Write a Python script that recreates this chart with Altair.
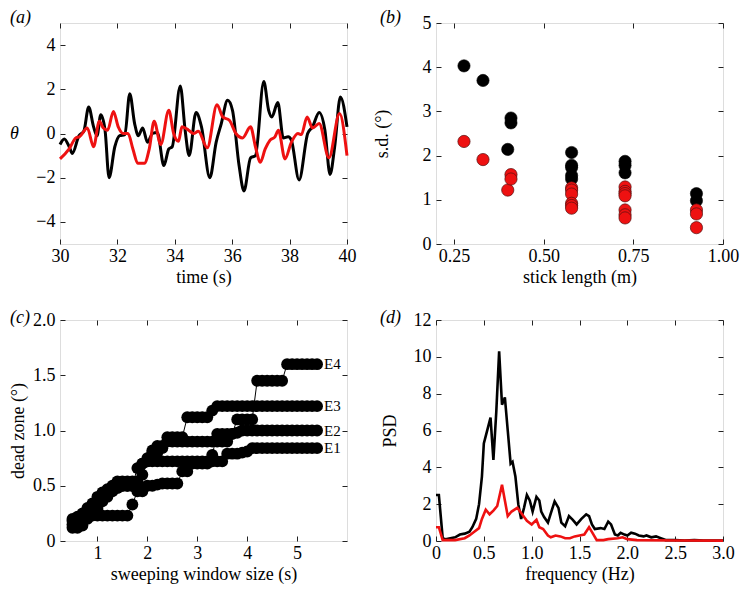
import altair as alt
import pandas as pd

FONT = "Liberation Serif"
FS = 18
W, H = 287, 221
RED = "#ee1111"

# ---------------- (a) time series ----------------
a_black_t = [30.00, 30.15, 30.32, 30.43, 30.66, 30.83, 31.00, 31.17, 31.29, 31.42,
             31.57, 31.71, 31.91, 32.08, 32.26, 32.43, 32.60, 32.73, 32.88, 33.05,
             33.22, 33.39, 33.62, 33.79, 33.91, 34.19, 34.36, 34.50, 34.74, 34.93,
             35.22, 35.44, 35.62, 35.84, 36.01, 36.24, 36.41, 36.64, 36.81, 37.10,
             37.27, 37.38, 37.59, 37.78, 37.95, 38.06, 38.33, 38.63, 38.80, 39.03,
             39.23, 39.41, 39.57, 39.77, 40.00]
a_black_v = [-0.5, -0.25, -0.6, -0.9, -0.1, 0.1, 1.2, 0.3, -0.1, 0.85,
             0.15, -2.0, -0.6, -0.1, -0.05, 1.8, 0.45, -0.1, 0.25, -0.4,
             0.0, 0.05, -1.45, -0.7, -0.6, 2.15, 0.15, -1.0, 0.95, 0.3,
             -2.0, -0.4, 0.45, 1.5, 1.05, -1.45, -2.6, -1.1, -1.0, 2.35,
             1.05, 0.75, 1.4, -0.2, -0.15, -0.3, -2.1, 0.0, 0.3, 0.95,
             0.15, -1.85, -0.6, 1.65, 0.3]
a_red_t = [30.00, 30.32, 30.55, 30.68, 30.95, 31.17, 31.37, 31.51, 31.66, 31.86,
           32.03, 32.20, 32.37, 32.54, 32.71, 32.94, 33.11, 33.28, 33.51, 33.79,
           33.96, 34.13, 34.25, 34.48, 34.65, 34.82, 35.13, 35.47, 35.67, 35.90,
           36.13, 36.36, 36.64, 36.81, 36.98, 37.15, 37.32, 37.49, 37.61, 37.84,
           38.06, 38.29, 38.41, 38.61, 38.80, 39.03, 39.37, 39.74, 40.00]
a_red_v = [-1.15, -0.7, -0.2, -0.15, 0.25, -0.6, 0.55, 0.25, 0.15, 1.0,
           0.3, 0.0, 0.0, -0.7, -1.35, -1.35, -0.7, 0.55, -0.5, 1.05,
           0.0, -0.35, 0.3, 0.15, 0.0, 0.1, -0.65, 1.3, 0.75, 0.6,
           0.0, -0.2, 0.3, -0.6, -1.3, -0.7, -0.3, -0.15, 0.15, -1.15,
           -0.4, 0.0, -0.05, 0.75, 0.25, 0.45, -1.1, 0.9, -1.0]

# ---------------- (b) s.d. vs stick length ----------------
b_black_x = [0.278, 0.331, 0.400, 0.409, 0.409, 0.578, 0.578, 0.578, 0.578, 0.578,
             0.727, 0.727, 0.727, 0.926, 0.926]
b_black_y = [4.03, 3.70, 2.14, 2.85, 2.74, 2.07, 1.78, 1.73, 1.55, 1.47,
             1.87, 1.78, 1.61, 1.14, 0.98]
b_red_x = [0.278, 0.331, 0.400, 0.409, 0.409,
           0.578, 0.578, 0.578, 0.578, 0.578, 0.578,
           0.727, 0.727, 0.727, 0.727, 0.727, 0.727, 0.727,
           0.926, 0.926, 0.926]
b_red_y = [2.32, 1.91, 1.22, 1.57, 1.47,
           1.27, 1.22, 1.13, 0.92, 0.87, 0.81,
           1.29, 1.19, 1.14, 1.09, 0.77, 0.66, 0.59,
           0.77, 0.68, 0.37]

# ---------------- (c) dead zone vs sweeping window ----------------
window = [0.5, 0.6, 0.7, 0.8, 0.9, 1.0, 1.1, 1.2, 1.3, 1.4,
          1.5, 1.6, 1.7, 1.8, 1.9, 2.0, 2.1, 2.2, 2.3, 2.4,
          2.5, 2.6, 2.7, 2.8, 2.9, 3.0, 3.1, 3.2, 3.3, 3.4,
          3.5, 3.6, 3.7, 3.8, 3.9, 4.0, 4.1, 4.2, 4.3, 4.4,
          4.5, 4.6, 4.7, 4.8, 4.9, 5.0, 5.1, 5.2, 5.3, 5.4]
E1 = [0.12, 0.12, 0.14, 0.20, 0.23, 0.23, 0.23, 0.23, 0.23, 0.23,
      0.23, 0.23, 0.33, 0.45, 0.45, 0.50, 0.50, 0.51, 0.52, 0.52,
      0.52, 0.52, 0.63, 0.63, 0.70, 0.70, 0.70, 0.70, 0.72, 0.72,
      0.72, 0.79, 0.79, 0.79, 0.80, 0.81, 0.84, 0.84, 0.84, 0.84,
      0.84, 0.84, 0.84, 0.84, 0.84, 0.84, 0.84, 0.84, 0.84, 0.84]
E2 = [0.15, 0.17, 0.20, 0.24, 0.28, 0.30, 0.36, 0.40, 0.45, 0.48,
      0.50, 0.50, 0.50, 0.52, 0.60, 0.72, 0.72, 0.72, 0.72, 0.72,
      0.72, 0.72, 0.72, 0.72, 0.72, 0.72, 0.72, 0.72, 0.78, 0.97,
      0.97, 0.97, 0.97, 0.98, 1.00, 1.00, 1.00, 1.00, 1.00, 1.00,
      1.00, 1.00, 1.00, 1.00, 1.00, 1.00, 1.00, 1.00, 1.00, 1.00]
E3 = [0.20, 0.22, 0.25, 0.30, 0.34, 0.40, 0.44, 0.47, 0.50, 0.54,
      0.54, 0.54, 0.54, 0.54, 0.70, 0.75, 0.82, 0.86, 0.86, 0.94,
      0.94, 0.94, 0.94, 1.12, 1.12, 1.12, 1.12, 1.12, 1.18, 1.22,
      1.22, 1.22, 1.22, 1.22, 1.22, 1.22, 1.22, 1.22, 1.22, 1.22,
      1.22, 1.22, 1.22, 1.22, 1.22, 1.22, 1.22, 1.22, 1.22, 1.22]
E4 = [0.18, 0.20, 0.22, 0.26, 0.28, 0.28, 0.42, 0.45, 0.48, 0.50,
      0.50, 0.50, 0.50, 0.66, 0.70, 0.72, 0.80, 0.80, 0.84, 0.90,
      0.90, 0.90, 0.90, 0.90, 0.90, 0.90, 0.90, 0.90, 0.90, 0.90,
      0.90, 0.90, 0.97, 1.10, 1.10, 1.10, 1.10, 1.45, 1.45, 1.45,
      1.45, 1.45, 1.45, 1.60, 1.60, 1.60, 1.60, 1.60, 1.60, 1.60]
series_names = ["E1", "E2", "E3", "E4"]

# ---------------- (d) PSD ----------------
d_black_f = [0.00, 0.03, 0.07, 0.10, 0.15, 0.20, 0.25, 0.30, 0.35, 0.38,
             0.42, 0.45, 0.48, 0.50, 0.53, 0.57, 0.60, 0.63, 0.66, 0.69,
             0.72, 0.75, 0.78, 0.80, 0.83, 0.86, 0.89, 0.92, 0.95, 0.98,
             1.01, 1.05, 1.08, 1.10, 1.13, 1.17, 1.20, 1.24, 1.28, 1.31,
             1.35, 1.39, 1.43, 1.47, 1.52, 1.57, 1.60, 1.63, 1.66, 1.72,
             1.76, 1.80, 1.83, 1.87, 1.90, 1.93, 1.97, 2.00, 2.04, 2.08,
             2.12, 2.17, 2.20, 2.25, 2.30, 2.35, 2.40, 2.50, 2.60, 2.70,
             2.80, 3.00]
d_black_p = [2.5, 2.5, 0.15, 0.1, 0.15, 0.2, 0.35, 0.4, 0.5, 0.75,
             1.2, 2.0, 3.5, 5.3, 5.9, 6.7, 4.4, 7.0, 10.3, 7.4,
             7.8, 6.0, 4.2, 4.3, 3.5, 2.0, 1.2, 1.8, 2.5, 2.2,
             1.6, 2.4, 2.2, 1.6, 1.3, 1.0, 1.5, 2.15, 1.8, 1.0,
             0.8, 1.35, 1.15, 0.9, 1.2, 1.45, 1.35, 0.9, 0.65, 0.7,
             0.65, 1.05, 0.9, 0.35, 0.3, 0.45, 0.35, 0.3, 0.45, 0.4,
             0.3, 0.25, 0.3, 0.2, 0.25, 0.15, 0.05, 0.05, 0.03, 0.05,
             0.03, 0.02]
d_red_f = [0.00, 0.03, 0.07, 0.10, 0.20, 0.30, 0.35, 0.40, 0.45, 0.48,
           0.52, 0.56, 0.60, 0.64, 0.69, 0.72, 0.75, 0.79, 0.85, 0.90,
           0.95, 1.00, 1.05, 1.08, 1.12, 1.17, 1.20, 1.25, 1.30, 1.35,
           1.40, 1.45, 1.50, 1.55, 1.60, 1.64, 1.68, 1.75, 1.80, 1.90,
           1.95, 2.00, 2.10, 2.50, 3.00]
d_red_p = [0.75, 0.75, 0.05, 0.05, 0.05, 0.15, 0.3, 0.5, 0.7, 1.2,
           1.7, 1.45, 1.65, 1.9, 3.05, 2.2, 1.35, 1.6, 1.8, 1.45,
           1.1, 0.9, 1.15, 0.75, 0.65, 0.3, 0.2, 0.3, 0.25, 0.15,
           0.15, 0.25, 0.3, 0.35, 0.75, 0.4, 0.05, 0.05, 0.1, 0.15,
           0.2, 0.1, 0.05, 0.03, 0.02]

ZERO_EXPR = "datum.value == 0 ? '0' : format(datum.value, '.1f')"


def ax_bottom(values, title, label_expr=None, title_y=38):
    kw = dict(values=values, title=title, orient="bottom", offset=-5, tickSize=5,
              domain=False, grid=False, labelFont=FONT, labelFontSize=FS,
              labelColor="black", labelPadding=3, labelFlush=False, labelOverlap=False,
              tickColor="#222", titleFont=FONT, titleFontSize=FS, titleFontWeight="normal",
              titleColor="black", titleX=W / 2, titleY=title_y, titleAlign="center",
              titleBaseline="middle")
    if label_expr:
        kw["labelExpr"] = label_expr
    return alt.Axis(**kw)


def ax_left(values, title, title_x, label_expr=None, angle=-90, italic=False):
    kw = dict(values=values, title=title, orient="left", offset=-5, tickSize=5,
              domain=False, grid=False, labelFont=FONT, labelFontSize=FS,
              labelColor="black", labelPadding=5, labelFlush=False, labelOverlap=False,
              tickColor="#222", titleFont=FONT, titleFontSize=FS, titleFontWeight="normal",
              titleColor="black", titleX=title_x - 5, titleY=H / 2, titleAlign="center",
              titleBaseline="middle", titleAngle=angle)
    if italic:
        kw["titleFontStyle"] = "italic"
    if label_expr:
        kw["labelExpr"] = label_expr
    return alt.Axis(**kw)


def ax_ticks(values, orient):
    return alt.Axis(values=values, orient=orient, offset=-5, tickSize=5, domain=False,
                    grid=False, labels=False, title="", tickColor="#222")


def tag(label, x, y):
    return alt.Chart(pd.DataFrame({"s": [label]})).mark_text(
        font=FONT, fontSize=FS, fontStyle="italic", align="left", baseline="alphabetic",
        color="black").encode(text="s:N", x=alt.value(x), y=alt.value(y))


# ----- panel a -----
xa = alt.Scale(domain=[30, 40], nice=False, zero=False)
ya = alt.Scale(domain=[-5, 5], nice=False)
xa_vals = [30, 32, 34, 36, 38, 40]
ya_vals = [-4, -2, 0, 2, 4]
dfa_b = pd.DataFrame({"t": a_black_t, "v": a_black_v})
dfa_r = pd.DataFrame({"t": a_red_t, "v": a_red_v})
a_black = alt.Chart(dfa_b).mark_line(color="black", strokeWidth=3, interpolate="monotone").encode(
    x=alt.X("t:Q", scale=xa, axis=ax_bottom(xa_vals, "time (s)")),
    y=alt.Y("v:Q", scale=ya, axis=ax_left(ya_vals, "θ", -46, angle=0, italic=True)))
a_red = alt.Chart(dfa_r).mark_line(color=RED, strokeWidth=3, interpolate="monotone").encode(
    x=alt.X("t:Q", scale=xa, axis=None), y=alt.Y("v:Q", scale=ya, axis=None))
a_ticks = alt.Chart(dfa_b).mark_point(opacity=0).encode(
    x=alt.X("t:Q", scale=xa, axis=ax_ticks(xa_vals, "top")),
    y=alt.Y("v:Q", scale=ya, axis=ax_ticks(ya_vals, "right")))
A = alt.layer(a_black, a_red, a_ticks, tag("(a)", -50, 0)).resolve_axis(
    x="independent", y="independent").properties(width=W, height=H)

# ----- panel b -----
xb = alt.Scale(domain=[0.2, 1.0], nice=False, zero=False)
yb = alt.Scale(domain=[0, 5], nice=False)
xb_vals = [0.25, 0.5, 0.75, 1.0]
yb_vals = [0, 1, 2, 3, 4, 5]
dfb_b = pd.DataFrame({"x": b_black_x, "y": b_black_y})
dfb_r = pd.DataFrame({"x": b_red_x, "y": b_red_y})
b_black = alt.Chart(dfb_b).mark_point(filled=True, shape="circle", size=150, color="black",
                                      opacity=1, stroke="black", strokeWidth=0.6).encode(
    x=alt.X("x:Q", scale=xb, axis=ax_bottom(xb_vals, "stick length (m)",
                                            label_expr="format(datum.value, '.2f')")),
    y=alt.Y("y:Q", scale=yb, axis=ax_left(yb_vals, "s.d. (°)", -54)))
b_red = alt.Chart(dfb_r).mark_point(filled=True, shape="circle", size=150, fill=RED,
                                    opacity=1, stroke="#551010", strokeWidth=0.7).encode(
    x=alt.X("x:Q", scale=xb, axis=None), y=alt.Y("y:Q", scale=yb, axis=None))
b_ticks = alt.Chart(dfb_b).mark_point(opacity=0).encode(
    x=alt.X("x:Q", scale=xb, axis=ax_ticks(xb_vals, "top")),
    y=alt.Y("y:Q", scale=yb, axis=ax_ticks(yb_vals, "right")))
B = alt.layer(b_black, b_red, b_ticks, tag("(b)", -56, 0)).resolve_axis(
    x="independent", y="independent").properties(width=W, height=H)

# ----- panel c -----
xc = alt.Scale(domain=[0.25, 6.0], nice=False, zero=False)
yc = alt.Scale(domain=[0, 2], nice=False)
xc_vals = [1, 2, 3, 4, 5]
yc_vals = [0, 0.5, 1.0, 1.5, 2.0]
rows = []
for name, vals in zip(series_names, [E1, E2, E3, E4]):
    for w, v in zip(window, vals):
        rows.append({"w": w, "d": v, "s": name})
dfc = pd.DataFrame(rows)
dfc_last = pd.DataFrame({"w": [window[-1]] * 4, "d": [E1[-1], E2[-1], E3[-1], E4[-1]],
                         "s": series_names})
c_lines = alt.Chart(dfc).mark_line(color="black", strokeWidth=1).encode(
    x=alt.X("w:Q", scale=xc, axis=ax_bottom(xc_vals, "sweeping window size (s)")),
    y=alt.Y("d:Q", scale=yc, axis=ax_left(yc_vals, "dead zone (°)", -42, label_expr=ZERO_EXPR)),
    detail="s:N")
c_pts = alt.Chart(dfc).mark_circle(size=140, color="black", opacity=1).encode(
    x=alt.X("w:Q", scale=xc, axis=None), y=alt.Y("d:Q", scale=yc, axis=None))
c_text = alt.Chart(dfc_last).mark_text(font=FONT, fontSize=15, align="left", baseline="middle",
                                       dx=7, color="black").encode(
    x=alt.X("w:Q", scale=xc, axis=None), y=alt.Y("d:Q", scale=yc, axis=None), text="s:N")
c_ticks = alt.Chart(dfc).mark_point(opacity=0).encode(
    x=alt.X("w:Q", scale=xc, axis=ax_ticks(xc_vals, "top")),
    y=alt.Y("d:Q", scale=yc, axis=ax_ticks(yc_vals, "right")))
C = alt.layer(c_lines, c_pts, c_text, c_ticks, tag("(c)", -50, 3)).resolve_axis(
    x="independent", y="independent").properties(width=W, height=H)

# ----- panel d -----
xd = alt.Scale(domain=[0, 3], nice=False, zero=False)
yd = alt.Scale(domain=[0, 12], nice=False)
xd_vals = [0, 0.5, 1.0, 1.5, 2.0, 2.5, 3.0]
yd_vals = [0, 2, 4, 6, 8, 10, 12]
dfd_b = pd.DataFrame({"f": d_black_f, "p": d_black_p})
dfd_r = pd.DataFrame({"f": d_red_f, "p": d_red_p})
d_black = alt.Chart(dfd_b).mark_line(color="black", strokeWidth=2.6).encode(
    x=alt.X("f:Q", scale=xd, axis=ax_bottom(xd_vals, "frequency (Hz)", label_expr=ZERO_EXPR)),
    y=alt.Y("p:Q", scale=yd, axis=ax_left(yd_vals, "PSD", -46)))
d_red = alt.Chart(dfd_r).mark_line(color=RED, strokeWidth=2.6).encode(
    x=alt.X("f:Q", scale=xd, axis=None), y=alt.Y("p:Q", scale=yd, axis=None))
d_ticks = alt.Chart(dfd_b).mark_point(opacity=0).encode(
    x=alt.X("f:Q", scale=xd, axis=ax_ticks(xd_vals, "top")),
    y=alt.Y("p:Q", scale=yd, axis=ax_ticks(yd_vals, "right")))
D = alt.layer(d_black, d_red, d_ticks, tag("(d)", -56, 3)).resolve_axis(
    x="independent", y="independent").properties(width=W, height=H)

chart = alt.concat(A, B, C, D, columns=2, spacing={"row": 76, "column": 89},
                   bounds="flush").properties(padding=0).configure_view(
    stroke="#222", strokeWidth=1).configure(font=FONT, background="white")

chart.save("out.html", embed_options={"renderer": "svg", "actions": False})
